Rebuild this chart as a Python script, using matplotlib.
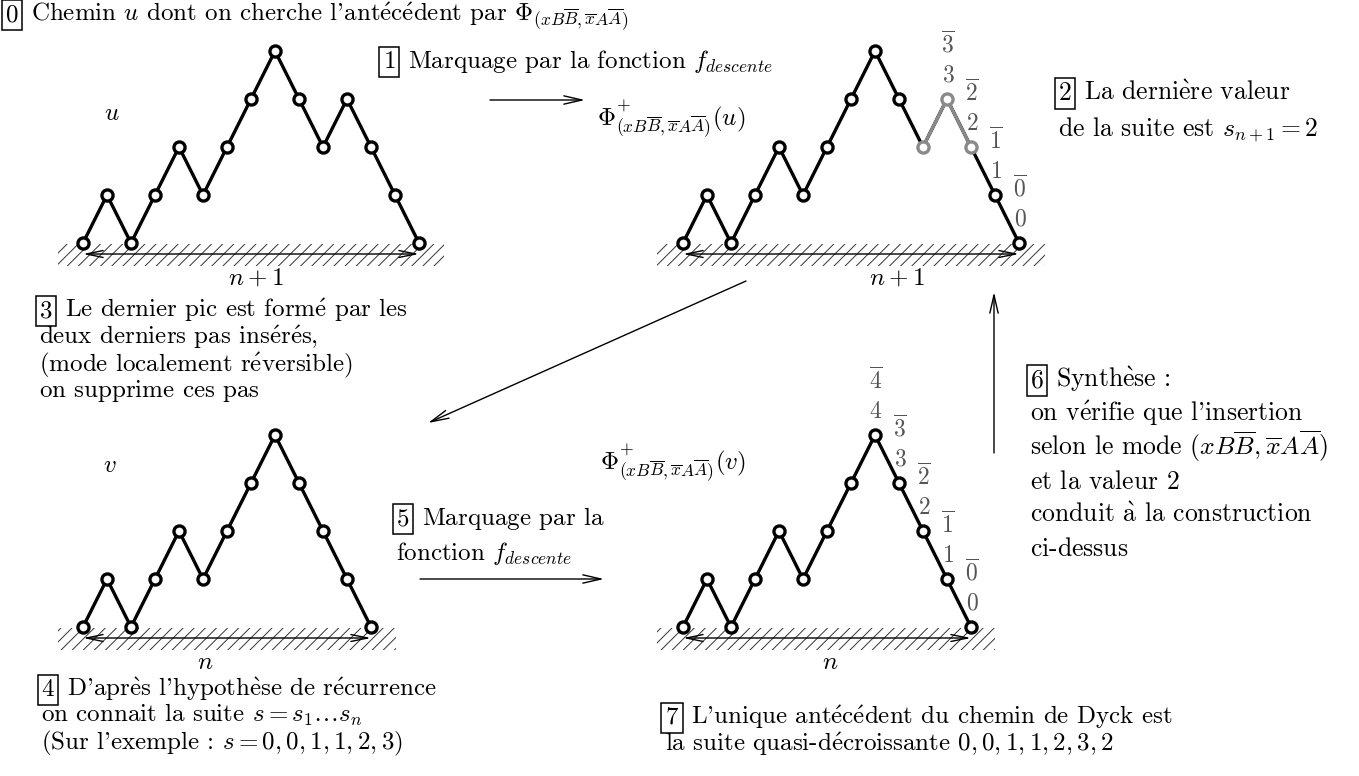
import numpy as np
import matplotlib
matplotlib.use("Agg")
import matplotlib.pyplot as plt
from matplotlib.patches import Rectangle

plt.rcParams['font.family'] = ['cmr10', 'DejaVu Serif']
plt.rcParams['mathtext.fontset'] = 'cm'
plt.rcParams['axes.formatter.use_mathtext'] = True
plt.rcParams['hatch.linewidth'] = 0.7

# ---- data ----
u_steps = [1, -1, 1, 1, -1, 1, 1, 1, -1, -1, 1, -1, -1, -1]
v_steps = [1, -1, 1, 1, -1, 1, 1, 1, -1, -1, -1, -1]
u_inserted = [10, 11, 12]          # nodes of the inserted last peak
u_marked_nodes = [11, 12, 13, 14]  # nodes labelled by f_descente on u
v_marked_nodes = [8, 9, 10, 11, 12]

title0 = r"Chemin $u$ dont on cherche l'antécédent par $\Phi_{(xB\overline{B},\overline{x}A\overline{A})}$"
text1 = r"Marquage par la fonction $f_{descente}$"
phi_u = r"$\Phi^{+}_{(xB\overline{B},\overline{x}A\overline{A})}(u)$"
phi_v = r"$\Phi^{+}_{(xB\overline{B},\overline{x}A\overline{A})}(v)$"
text2 = ["La dernière valeur", r"de la suite est $s_{n+1} = 2$"]
text3 = ["Le dernier pic est formé par les", "deux derniers pas insérés,",
         "(mode localement réversible)", "on supprime ces pas"]
text4 = ["D'après l'hypothèse de récurrence", r"on connait la suite $s = s_1\ldots s_n$",
         r"(Sur l'exemple : $s = 0,0,1,1,2,3$)"]
text5 = ["Marquage par la", r"fonction $f_{descente}$"]
text6 = ["Synthèse :", "on vérifie que l'insertion",
         r"selon le mode $(xB\overline{B},\overline{x}A\overline{A})$",
         "et la valeur 2", "conduit à la construction", "ci-dessus"]
text7 = ["L'unique antécédent du chemin de Dyck est",
         r"la suite quasi-décroissante $0,0,1,1,2,3,2$"]

ACC = {'é': r'\acute{e}', 'è': r'\grave{e}', 'à': r'\grave{a}'}


def tex(s):
    """Turn a mixed text/math string into a single mathtext string in CM."""
    parts = s.split('$')
    out = []
    for i, p in enumerate(parts):
        if i % 2 == 1:
            out.append(p)
            continue
        run = ''
        for ch in p:
            if ch in ACC:
                if run:
                    out.append(r'\text{' + run + '}')
                    run = ''
                out.append(r'\mathrm{' + ACC[ch] + '}')
            else:
                run += ch
        if run:
            out.append(r'\text{' + run + '}')
    return '$' + ''.join(out) + '$'


# ---- figure ----
W, H = 1359, 776
fig = plt.figure(figsize=(W / 100, H / 100), dpi=100)
ax = fig.add_axes([0, 0, 1, 1])
ax.set_xlim(0, W)
ax.set_ylim(H, 0)
ax.axis('off')

FS = 18
DX, DY = 24, 48
GREY = '#8a8a8a'
LBL = '#555555'


def boxed_lines(x, ys, num, lines, fs=FS):
    ax.text(x + 7, ys[0], '$%d$' % num, fontsize=fs, ha='center', va='baseline',
            bbox=dict(boxstyle='square,pad=0.14', fc='none', ec='k', lw=1.1))
    for i, (ln, yy) in enumerate(zip(lines, ys)):
        xx = x + 26 if i == 0 else x
        ax.text(xx, yy, tex(ln), fontsize=fs, ha='left', va='baseline')


def path_xy(steps, x0, y0):
    h = np.concatenate([[0], np.cumsum(steps)])
    xs = x0 + DX * np.arange(len(h))
    ys = y0 - DY * h
    return xs, ys, h


def draw_path(steps, x0, y0, grey=()):
    xs, ys, h = path_xy(steps, x0, y0)
    ax.plot(xs, ys, '-', color='k', lw=2.4, zorder=3, solid_capstyle='round')
    if grey:
        g = list(grey)
        ax.plot(xs[g], ys[g], '-', color=GREY, lw=2.4, zorder=4)
    cols = ['k'] * len(xs)
    for i in grey:
        cols[i] = GREY
    for xx, yy, c in zip(xs, ys, cols):
        ax.plot(xx, yy, 'o', ms=8, mfc='white', mec=c, mew=2.4, zorder=5)
    return xs, ys, h


def ground(x0, x1, xa, xb, y, label, lx):
    ax.add_patch(Rectangle((x0, y + 1), x1 - x0, 22, fill=False, hatch='///',
                           lw=0, ec='#333333', zorder=1))
    ax.annotate('', xy=(xa, y + 11), xytext=(xb, y + 11),
                arrowprops=dict(arrowstyle='<->,head_length=1.2,head_width=0.25',
                                lw=1.0, color='k', shrinkA=0, shrinkB=0), zorder=2)
    ax.text(lx, y + 42, label, fontsize=FS, ha='center', va='baseline')


def marks(xs, ys, h, nodes):
    for i in nodes:
        k = int(h[i])
        ax.text(xs[i] + 1, ys[i] - 17, '$%d$' % k, fontsize=FS - 1, color=LBL,
                ha='center', va='baseline')
        ax.text(xs[i] + 1, ys[i] - 46, r'$\overline{%d}$' % k, fontsize=FS - 1,
                color=LBL, ha='center', va='baseline')


def arrow(x0, y0, x1, y1):
    ax.annotate('', xy=(x1, y1), xytext=(x0, y0),
                arrowprops=dict(arrowstyle='->,head_length=1.3,head_width=0.3',
                                lw=1.0, color='k', shrinkA=0, shrinkB=0))


# ---- title ----
boxed_lines(5, [21], 0, [title0])

# ---- top-left: u ----
xs, ys, h = draw_path(u_steps, 83, 243)
ground(58, 444, xs[0], xs[-1], 243, r'$n+1$', 256)
ax.text(112, 120, r'$u$', fontsize=FS, ha='center', va='baseline')

# ---- step 1 ----
boxed_lines(382, [68], 1, [text1])
arrow(490, 100, 585, 100)
ax.text(597, 126, phi_u, fontsize=FS, ha='left', va='baseline')

# ---- top-right: marked u ----
xs, ys, h = draw_path(u_steps, 683, 243, grey=u_inserted)
ground(657, 1045, xs[0], xs[-1], 243, r'$n+1$', 897)
marks(xs, ys, h, u_marked_nodes)

# ---- step 2 ----
boxed_lines(1058, [100, 135], 2, text2, fs=18.5)

# ---- diagonal arrow ----
arrow(746, 281, 428, 423)

# ---- step 3 ----
boxed_lines(39, [317, 344, 371, 397], 3, text3)

# ---- bottom-left: v ----
xs, ys, h = draw_path(v_steps, 83, 627)
ground(58, 396, xs[0], xs[-1], 627, r'$n$', 205)
ax.text(110, 472, r'$v$', fontsize=FS, ha='center', va='baseline')

# ---- step 4 ----
boxed_lines(41, [696, 722, 749], 4, text4)

# ---- step 5 ----
boxed_lines(396, [525, 560], 5, text5)
arrow(420, 579, 604, 579)
ax.text(600, 470, phi_v, fontsize=FS, ha='left', va='baseline')

# ---- bottom-right: marked v ----
xs, ys, h = draw_path(v_steps, 683, 627)
ground(657, 995, xs[0], xs[-1], 627, r'$n$', 830)
marks(xs, ys, h, v_marked_nodes)

# ---- step 6 ----
arrow(994, 453, 994, 292)
boxed_lines(1030, [387, 421, 455, 489, 522, 556], 6, text6, fs=18.5)

# ---- step 7 ----
boxed_lines(665, [724, 751], 7, text7)

fig.savefig('out.png', dpi=100)
